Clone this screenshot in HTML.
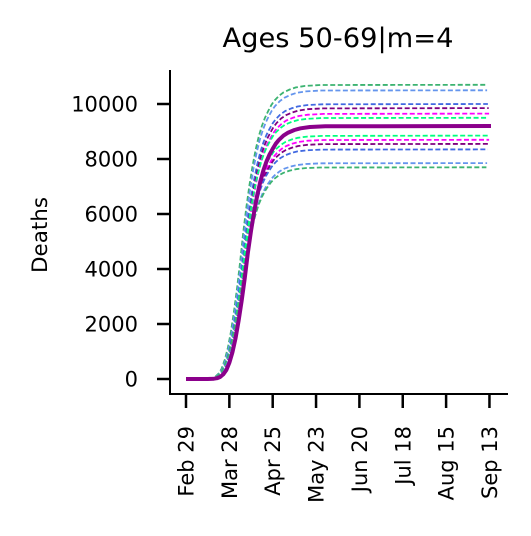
<!DOCTYPE html>
<html><head><meta charset="utf-8"><style>
body{margin:0;background:#fff}
svg text{font-family:"DejaVu Sans","Liberation Sans",sans-serif;fill:#000}
</style></head><body>
<svg id="chart" width="531" height="531" viewBox="0 0 531 531" xmlns="http://www.w3.org/2000/svg">
<text x="338" y="47" font-size="27" text-anchor="middle" textLength="231" lengthAdjust="spacingAndGlyphs">Ages 50-69|m=4</text>
<text transform="translate(47,235) rotate(-90)" font-size="21" text-anchor="middle" textLength="76" lengthAdjust="spacingAndGlyphs">Deaths</text>
<g id="plot"></g>
</svg>
<script>
const tickDays=[0,28,56,84,112,140,168,196];
const tickLabels=["Feb 29","Mar 28","Apr 25","May 23","Jun 20","Jul 18","Aug 15","Sep 13"];
const yTicks=[0,2000,4000,6000,8000,10000];
const shapeDays=[0,14,18,20,22,24,26,28,30,32,34,36,38,40,42,44,46,48,50,52,54,56,58,60,63,66,70,74,80,90,197];
const shapeFrac=[0,0,0.001,0.003,0.008,0.018,0.035,0.065,0.105,0.16,0.23,0.31,0.4,0.5,0.585,0.66,0.725,0.78,0.825,0.86,0.888,0.91,0.93,0.945,0.962,0.974,0.984,0.991,0.996,0.999,1];
const seriesTotals=[10700,10500,10000,9850,9650,9500,8850,8700,8550,8350,7850,7700];
const seriesShift=[-3,-2.5,-2,-1.5,-1.2,-1.8,-1.8,-1.2,-1.5,-2,-2.5,-3];
const seriesColors=["#3cb371","#6495ed","#4169e1","#800080","#ff00ff","#00ff7f","#00ff7f","#ff00ff","#800080","#4169e1","#6495ed","#3cb371"];
const mainTotal=9200;
const X=d=>186+d*(305/197);
const Y=v=>379-v*0.0275;
const ns="http://www.w3.org/2000/svg";
const g=document.getElementById('plot');
function mk(t,a){const e=document.createElementNS(ns,t);for(const k in a)e.setAttribute(k,a[k]);g.appendChild(e);return e;}
function pathFor(total,shift){
  let d="";
  shapeDays.forEach((day,i)=>{let dd=i<2?day:day+shift;d+=(i?"L":"M")+X(Math.max(0,dd)).toFixed(1)+","+Y(total*shapeFrac[i]).toFixed(1);});
  return d;
}
seriesTotals.forEach((t,i)=>{
  const p=mk('path',{d:pathFor(t,seriesShift[i]),fill:"none",stroke:seriesColors[i],"stroke-width":1.8,"stroke-dasharray":"5,2.5","stroke-linejoin":"round"});
  
  
});
const m=mk('path',{d:pathFor(mainTotal,0),fill:"none",stroke:"#8b008b","stroke-width":4,"stroke-linejoin":"round"});


const ya=mk('line',{x1:170,y1:70,x2:170,y2:395,stroke:"#000","stroke-width":2});


const xa=mk('line',{x1:169,y1:394,x2:508,y2:394,stroke:"#000","stroke-width":2});


yTicks.forEach(v=>{
  const l=mk('line',{x1:157,y1:Y(v),x2:170,y2:Y(v),stroke:"#000","stroke-width":2.5});
  
  
  const t=mk('text',{x:138,y:Y(v)+7.5,"font-size":21,"text-anchor":"end"});
  t.textContent=v;
  
  
});
tickDays.forEach((d,i)=>{
  const x=X(d);
  const l=mk('line',{x1:x,y1:394,x2:x,y2:408,stroke:"#000","stroke-width":2.5});
  
  
  const t=mk('text',{transform:`translate(${x+7.5},426) rotate(-90)`,"font-size":21,"text-anchor":"end"});
  t.textContent=tickLabels[i];
  
  
});
</script>
</body></html>
